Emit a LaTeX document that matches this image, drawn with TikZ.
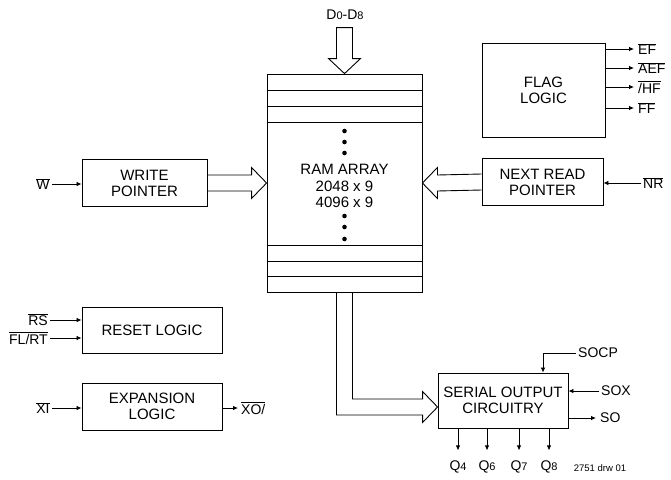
\documentclass[tikz,border=0pt]{standalone}
\usepackage{fontspec}
\setmainfont{Liberation Sans}
\usetikzlibrary{arrows.meta,calc}
\newcommand{\ovl}[1]{$\overline{\mbox{#1}}$}
\newcommand{\sm}[1]{{\fontsize{11}{11}\selectfont #1}}
\tikzset{
  block/.style={draw, line width=0.9pt, align=center, inner sep=0pt,
    font=\fontsize{15}{16}\selectfont},
  sig/.style={-{Latex[length=5pt,width=4.5pt]}, line width=0.8pt},
  hollow/.style={draw, line width=0.9pt, line join=miter},
  lbl/.style={inner sep=2pt, font=\fontsize{14}{14}\selectfont},
}
\begin{document}
\begin{tikzpicture}[x=1pt,y=-1pt]
  \useasboundingbox (0,0) rectangle (671,479);
  % RAM array with its rows
  \node[block, minimum width=155, minimum height=218] (ram) at (344.5,183) {};
  \foreach \y in {90,106,122,245,261,276}
    \draw[line width=0.9pt] (ram.west |- 0,\y) -- (ram.east |- 0,\y);
  \foreach \y in {131,142,153,216,227,239}
    \fill (ram.center |- 0,\y) circle (2.3);
  \node[align=center, font=\fontsize{15}{16.5}\selectfont] (ramtxt) at (344.5,186)
    {RAM ARRAY\\2048 x 9\\4096 x 9};
  % data in
  \node[lbl] (din) at (345,15) {D\sm{0}-D\sm{8}};
  \draw[hollow] ($(ram.north)+(-8,-46)$) -- ($(ram.north)+(-8,-15)$)
    -- ($(ram.north)+(-16,-15)$) -- (ram.north) -- ($(ram.north)+(16,-15)$)
    -- ($(ram.north)+(8,-15)$) -- ($(ram.north)+(8,-46)$) -- cycle;
  % pointers
  \node[block, minimum width=125, minimum height=47] (wrp) at (144.5,183) {WRITE\\POINTER};
  \node[block, minimum width=121, minimum height=47] (nrp) at (542.5,182) {NEXT READ\\POINTER};
  \draw[hollow] ($(wrp.east)+(0,-8)$) -- ($(ram.west)+(-15,-8)$)
    -- ($(ram.west)+(-15,-15.5)$) -- (ram.west) -- ($(ram.west)+(-15,15.5)$)
    -- ($(ram.west)+(-15,8)$) -- ($(wrp.east)+(0,8)$);
  \draw[hollow] ($(nrp.west)+(0,-8)$) -- ($(ram.east)+(15,-8)$)
    -- ($(ram.east)+(15,-15.5)$) -- (ram.east) -- ($(ram.east)+(15,15.5)$)
    -- ($(ram.east)+(15,8)$) -- ($(nrp.west)+(0,8)$);
  \node[lbl] (w) at (43,184) {\ovl{W}};
  \draw[sig] (w.east) -- (wrp.west |- w.east);
  \node[lbl, anchor=west] (nr) at (641,183) {\ovl{NR}};
  \draw[sig] (nr.west) -- (nrp.east |- nr.west);
  % flag logic
  \node[block, minimum width=123, minimum height=94] (flag) at (543.5,90) {FLAG\\LOGIC};
  \foreach \y/\t [count=\i] in {49/EF,68/AEF,87/{/HF},108/FF}{
    \node[lbl, anchor=west, inner sep=4pt] (fo\i) at (634,\y) {\ovl{\t}};
    \draw[sig] (flag.east |- fo\i.west) -- (fo\i.west);
  }
  % reset and expansion
  \node[block, minimum width=140, minimum height=46] (rst) at (152,330) {RESET LOGIC};
  \node[lbl, anchor=east] (rs) at (50,320) {\ovl{RS}};
  \node[lbl, anchor=east] (flrt) at (50,338) {\ovl{FL/RT}};
  \draw[sig] (rs.east) -- (rst.west |- rs.east);
  \draw[sig] (flrt.east) -- (rst.west |- flrt.east);
  \node[block, minimum width=140, minimum height=47] (exp) at (152,406.5) {EXPANSION\\LOGIC};
  \node[lbl] (xi) at (43,408) {\ovl{XI}};
  \node[lbl, anchor=west, inner sep=3pt] (xo) at (238,408) {\ovl{XO/}};
  \draw[sig] (xi.east) -- (exp.west |- xi.east);
  \draw[sig] (exp.east |- xo.west) -- (xo.west);
  % serial output
  \node[block, minimum width=130, minimum height=55] (sor) at (503,400.5) {SERIAL OUTPUT\\CIRCUITRY};
  \coordinate (tip) at ($(sor.west)+(0,6.5)$);
  \draw[hollow] ($(ram.south)+(8,0)$) -- ($(ram.south |- tip)+(8,-8)$)
    -- ($(tip)+(-15,-8)$) -- ($(tip)+(-15,-15.5)$) -- (tip)
    -- ($(tip)+(-15,15.5)$) -- ($(tip)+(-15,8)$)
    -- ($(ram.south |- tip)+(-8,8)$) -- ($(ram.south)+(-8,0)$);
  \node[lbl, anchor=west] (socp) at (576,353) {SOCP};
  \draw[sig] (socp.west) -| (543,0 |- sor.north);
  \node[lbl, anchor=west] (sox) at (599,391) {SOX};
  \draw[sig] (sox.west) -- (sor.east |- sox.west);
  \node[lbl, anchor=west, inner sep=4pt] (so) at (596,418) {SO};
  \draw[sig] (sor.east |- so.west) -- (so.west);
  \foreach \x/\n in {458/4,487/6,519/7,549/8}{
    \node[lbl] (q\n) at (\x,467) {Q\sm{\n}};
    \draw[sig] (sor.south -| q\n) -- ++(0,22);
  }
  \node[font=\fontsize{9.5}{9.5}\selectfont] (drw) at (600,468) {2751 drw 01};
\end{tikzpicture}
\end{document}
